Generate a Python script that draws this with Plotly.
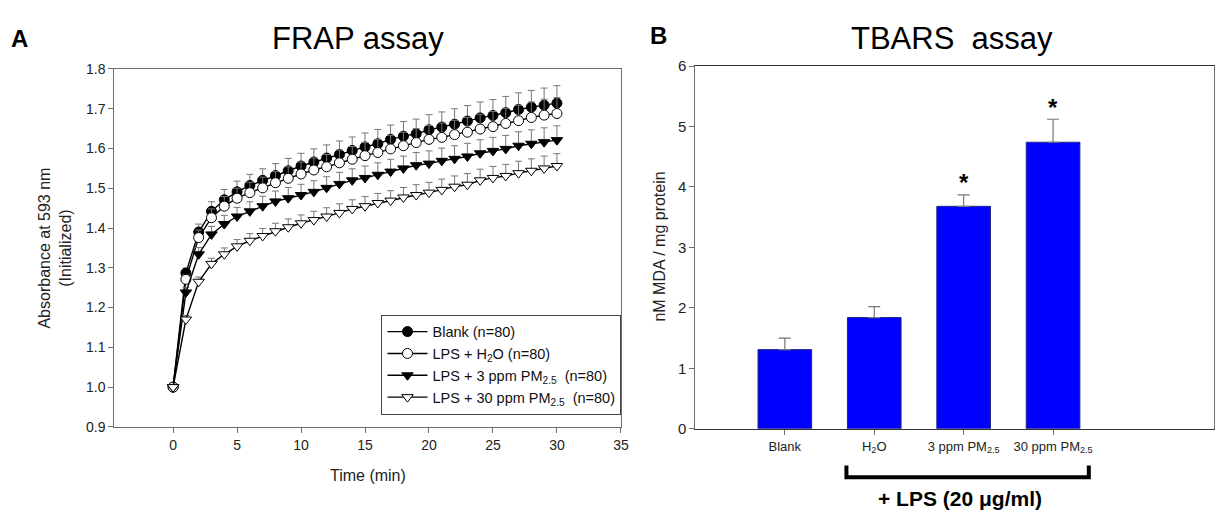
import plotly.graph_objects as go

# ---------------- data: FRAP assay (panel A) ----------------
time_min = list(range(0, 31))

blank = [1.000, 1.287, 1.390, 1.442, 1.471, 1.491, 1.507, 1.520, 1.532, 1.544,
         1.556, 1.566, 1.576, 1.585, 1.595, 1.604, 1.612, 1.623, 1.631, 1.637,
         1.647, 1.654, 1.661, 1.669, 1.677, 1.683, 1.690, 1.698, 1.704, 1.709, 1.714]
lps_h2o = [1.000, 1.271, 1.376, 1.426, 1.455, 1.475, 1.489, 1.501, 1.514, 1.525,
           1.536, 1.546, 1.554, 1.564, 1.573, 1.582, 1.590, 1.599, 1.607, 1.615,
           1.623, 1.628, 1.635, 1.641, 1.649, 1.655, 1.663, 1.670, 1.678, 1.684, 1.688]
lps_3ppm = [1.000, 1.238, 1.334, 1.384, 1.410, 1.429, 1.442, 1.455, 1.467, 1.475,
            1.483, 1.491, 1.501, 1.511, 1.520, 1.526, 1.534, 1.542, 1.550, 1.558,
            1.562, 1.569, 1.574, 1.580, 1.588, 1.594, 1.599, 1.607, 1.612, 1.616, 1.621]
lps_30ppm = [1.000, 1.170, 1.265, 1.310, 1.334, 1.354, 1.368, 1.380, 1.392, 1.402,
             1.412, 1.420, 1.429, 1.438, 1.448, 1.455, 1.463, 1.469, 1.477, 1.483,
             1.489, 1.496, 1.504, 1.509, 1.520, 1.526, 1.531, 1.538, 1.544, 1.550, 1.556]

err_blank = [0, 0.012, 0.020, 0.024, 0.026, 0.027, 0.028, 0.029, 0.030, 0.031,
             0.032, 0.033, 0.033, 0.034, 0.034, 0.035, 0.036, 0.036, 0.037, 0.037,
             0.038, 0.038, 0.039, 0.039, 0.040, 0.040, 0.041, 0.042, 0.042, 0.043, 0.044]
err_h2o = [0, 0.012, 0.019, 0.022, 0.024, 0.025, 0.026, 0.027, 0.028, 0.029,
           0.030, 0.030, 0.031, 0.032, 0.032, 0.033, 0.033, 0.034, 0.034, 0.035,
           0.035, 0.036, 0.036, 0.037, 0.037, 0.038, 0.038, 0.039, 0.039, 0.040, 0.040]
err_3ppm = [0, 0.012, 0.017, 0.020, 0.022, 0.023, 0.024, 0.025, 0.026, 0.027,
            0.027, 0.028, 0.028, 0.029, 0.029, 0.030, 0.030, 0.031, 0.031, 0.032,
            0.032, 0.032, 0.033, 0.033, 0.034, 0.034, 0.034, 0.035, 0.035, 0.036, 0.036]
err_30ppm = [0, 0.010, 0.012, 0.014, 0.016, 0.017, 0.018, 0.019, 0.020, 0.021,
             0.021, 0.022, 0.022, 0.023, 0.023, 0.024, 0.024, 0.025, 0.025, 0.026,
             0.026, 0.027, 0.027, 0.028, 0.028, 0.029, 0.029, 0.030, 0.030, 0.031, 0.031]

frap_names = ["Blank (n=80)",
              "LPS + H<sub>2</sub>O (n=80)",
              "LPS + 3 ppm PM<sub>2.5</sub>  (n=80)",
              "LPS + 30 ppm PM<sub>2.5</sub>  (n=80)"]

frap_xticks = [0, 5, 10, 15, 20, 25, 30, 35]
frap_yticks = [0.9, 1.0, 1.1, 1.2, 1.3, 1.4, 1.5, 1.6, 1.7, 1.8]

# ---------------- data: TBARS assay (panel B) ----------------
tbars_pos = [0, 1, 2, 3]
tbars_labels = ["Blank", "H<sub>2</sub>O", "3 ppm PM<sub>2.5</sub>", "30 ppm PM<sub>2.5</sub>"]
tbars_values = [1.31, 1.84, 3.68, 4.74]
tbars_err = [0.19, 0.18, 0.19, 0.38]
tbars_sig = [False, False, True, True]
tbars_yticks = [0, 1, 2, 3, 4, 5, 6]

# ---------------- layout helpers ----------------
W, H = 1222, 520
def px(x):
    return x / W
def py(y):
    return 1 - y / H

FONT = "Liberation Sans, Arial, sans-serif"
AXC = "#6e6e6e"

fig = go.Figure()

series = [
    (blank, err_blank, "circle", "black"),
    (lps_h2o, err_h2o, "circle", "white"),
    (lps_3ppm, err_3ppm, "triangle-down", "black"),
    (lps_30ppm, err_30ppm, "triangle-down", "white"),
]
for name, (vals, errs, sym, fillc) in zip(frap_names, series):
    fig.add_trace(go.Scatter(
        x=time_min, y=vals, name=name, mode="lines+markers",
        xaxis="x", yaxis="y",
        line=dict(color="black", width=1.4),
        marker=dict(symbol=sym, size=10, color=fillc,
                    line=dict(color="black", width=1)),
        error_y=dict(type="data", array=errs, arrayminus=[0] * len(errs),
                     symmetric=False, color="#777777", thickness=1, width=3.5),
    ))

fig.add_trace(go.Bar(
    x=tbars_pos, y=tbars_values, xaxis="x2", yaxis="y2", width=0.6,
    marker=dict(color="#0000FF", line=dict(color="#25258a", width=1)),
    error_y=dict(type="data", array=tbars_err, arrayminus=[0] * len(tbars_err),
                 symmetric=False, color="#777777", thickness=1.2, width=6),
    showlegend=False,
))

def ann(x, y, text, size, color="black", angle=0, xref="paper", yref="paper",
        xanchor="center", yanchor="middle"):
    return dict(x=x, y=y, xref=xref, yref=yref, text=text, showarrow=False,
                textangle=angle, xanchor=xanchor, yanchor=yanchor,
                font=dict(size=size, color=color, family=FONT))

annotations = []
for xp, v, e, s in zip(tbars_pos, tbars_values, tbars_err, tbars_sig):
    if s:
        annotations.append(ann(xp, v + e + 0.2, "<b>*</b>", 24,
                               xref="x2", yref="y2", yanchor="middle"))

annotations += [
    ann(px(20), py(30), "<b>A</b>", 24),
    ann(px(663), py(27), "<b>B</b>", 24),
    ann(px(360), py(30), "FRAP assay", 31),
    ann(px(958), py(30), "TBARS  assay", 31),
    ann(px(55), py(247), "Absorbance at 593 nm<br>(Initialized)", 16, "#222", -90),
    ann(px(370), py(482), "Time (min)", 16, "#222"),
    ann(px(664), py(246), "nM MDA / mg protein", 16, "#222", -90),
    ann(px(966), py(506), "<b>+ LPS (20 μg/ml)</b>", 21),
]

shapes = [
    dict(type="path", xref="paper", yref="paper",
         path=f"M {px(852)},{py(472)} L {px(852)},{py(484)} L {px(1096)},{py(484)} L {px(1096)},{py(472)}",
         line=dict(color="black", width=4)),
]

fig.update_layout(
    width=W, height=H,
    margin=dict(l=0, r=0, t=0, b=0),
    paper_bgcolor="white", plot_bgcolor="white",
    font=dict(family=FONT, size=14, color="#222"),
    showlegend=True,
    legend=dict(x=px(384), y=py(316), xanchor="left", yanchor="top",
                bordercolor="#444", borderwidth=1, bgcolor="white",
                font=dict(size=14.5, color="#111", family=FONT),
                tracegroupgap=0, itemwidth=40),
    xaxis=dict(domain=[px(115), px(625)], range=[-4.6, 35],
               tickvals=frap_xticks, ticks="outside", ticklen=5, tickcolor=AXC,
               showline=True, linecolor=AXC, linewidth=1, mirror=True,
               showgrid=False, zeroline=False, tickfont=dict(size=14, color="#222"),
               anchor="y"),
    yaxis=dict(domain=[py(432), py(62)], range=[0.9, 1.8],
               tickvals=frap_yticks, tickformat=".1f", ticks="outside", ticklen=5,
               tickcolor=AXC, showline=True, linecolor=AXC, linewidth=1, mirror=True,
               showgrid=False, zeroline=False, tickfont=dict(size=14, color="#222"),
               anchor="x"),
    xaxis2=dict(domain=[px(700), 1.0], range=[-1.0, 4.8],
                tickvals=tbars_pos, ticktext=tbars_labels, ticks="outside", ticklen=5,
                tickcolor=AXC, showline=True, linecolor="#333", linewidth=1.2,
                mirror=True, showgrid=False, zeroline=False,
                tickfont=dict(size=13, color="#222"), anchor="y2"),
    yaxis2=dict(domain=[py(434), py(59)], range=[0, 6],
                tickvals=tbars_yticks, ticks="outside", ticklen=5, tickcolor=AXC,
                showline=True, linecolor=AXC, linewidth=1, mirror=True,
                showgrid=False, zeroline=False, tickfont=dict(size=15, color="#222"),
                anchor="x2"),
    annotations=annotations,
    shapes=shapes,
)

fig.write_html("out.html", config={"displayModeBar": False},
               post_script="document.body.style.margin='0px';")
